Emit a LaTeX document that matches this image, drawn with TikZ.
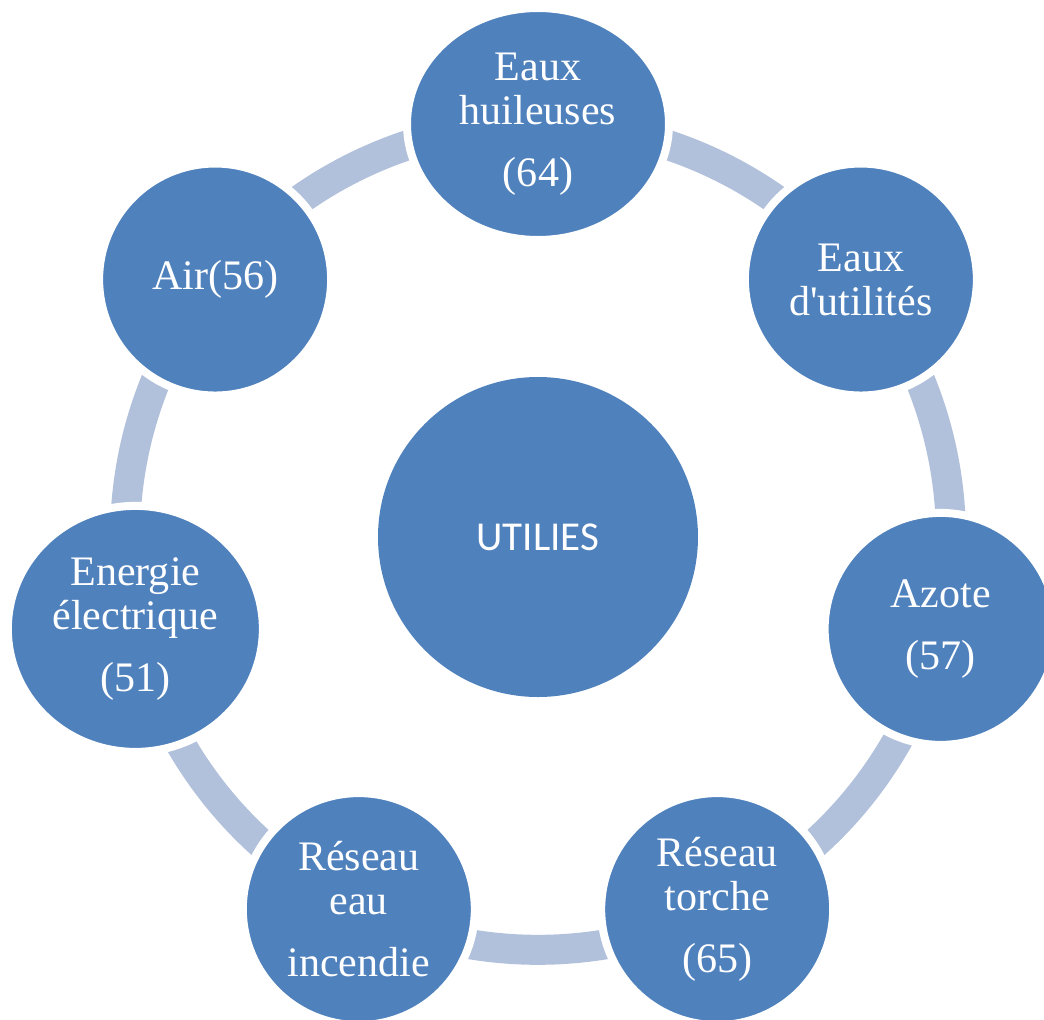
\documentclass[tikz,border=0pt]{standalone}
\usepackage{fontspec}
\setmainfont{Liberation Serif}
\newfontfamily\calib{Carlito}
\usetikzlibrary{shapes.geometric,backgrounds}
\definecolor{smblue}{HTML}{4F81BD}
\definecolor{smring}{HTML}{B2C1DB}
\tikzset{
  bulle/.style={ellipse, fill=smblue, draw=white, line width=0.2cm, minimum width=5.8cm, minimum height=5.8cm, inner sep=0pt, text=white, align=center, font=\fontsize{29.9}{31.3}\selectfont},
  centre/.style={circle, fill=smblue, minimum size=8cm, inner sep=0pt, text=white, font=\calib\fontsize{29.2}{31}\selectfont},
  anneau/.style={draw=smring, line width=0.75cm},
}
\begin{document}
\begin{tikzpicture}
	\useasboundingbox (-13.45,-12.05) rectangle (12.65,13.425);
	\node[centre] (util) at (0,0) {UTILIES};
	\node[bulle, minimum width=6.55cm] (huil) at (90:10.325) {Eaux\\huileuses\\[0.45cm](64)};
	\node[bulle] (utis) at (38.571:10.325) {Eaux\\d\textquotesingle utilités};
	\node[bulle] (azot) at (-12.857:10.325) {Azote\\[0.45cm](57)};
	\node[bulle] (torc) at (-64.286:10.325) {Réseau\\torche\\[0.45cm](65)};
	\node[bulle] (ince) at (-115.714:10.325) {Réseau\\eau\\[0.45cm]incendie};
	\node[bulle, minimum width=6.375cm, minimum height=6.15cm] (elec) at (-167.143:10.325) {Energie\\électrique\\[0.45cm](51)};
	\node[bulle] (air) at (141.429:10.325) {Air(56)};
	\begin{scope}[on background layer]
		\foreach \a/\b in {huil/utis,utis/azot,azot/torc,torc/ince,ince/elec,elec/air,air/huil}
			\draw[anneau] (\a.center) to[bend left=25.71, looseness=0.896] (\b.center);
	\end{scope}
\end{tikzpicture}
\end{document}
